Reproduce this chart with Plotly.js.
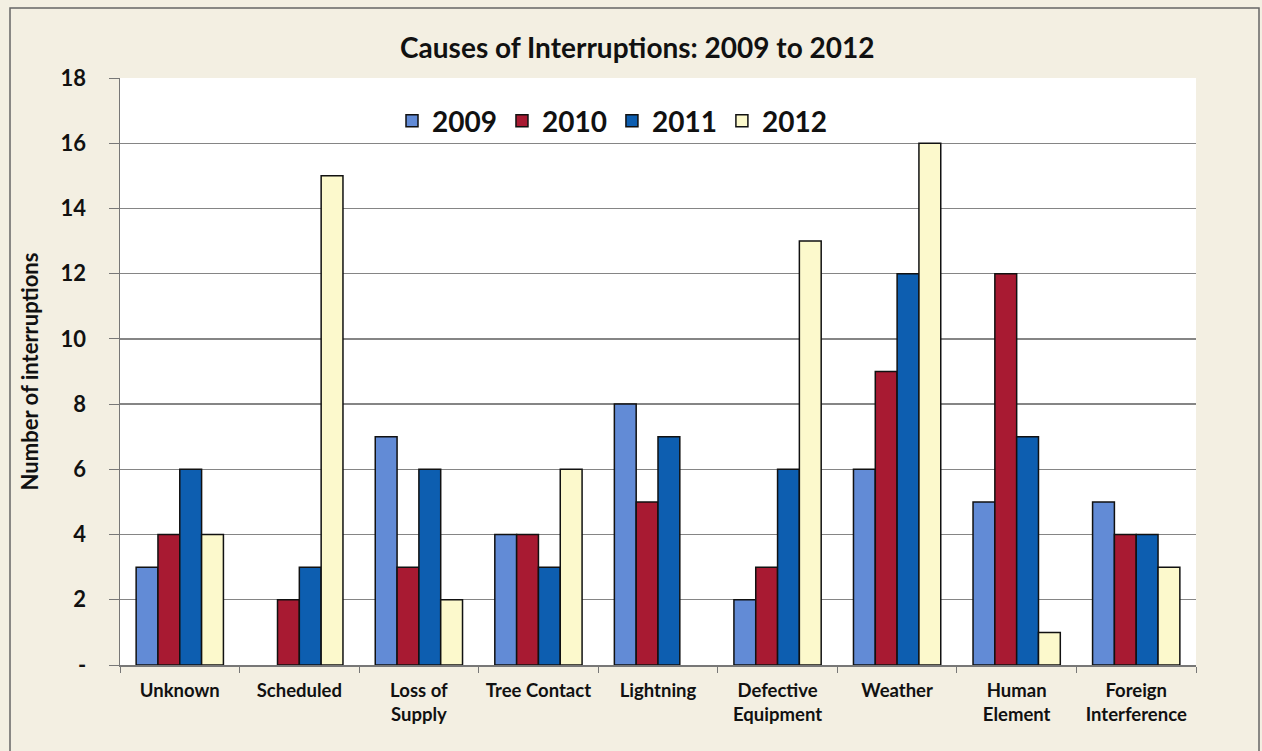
<!DOCTYPE html>
<html>
<head>
<meta charset="utf-8">
<script src="https://cdn.plot.ly/plotly-3.0.1.min.js"></script>
<style>
html,body{margin:0;padding:0;background:#f3efe2;}
#chart{width:1262px;height:751px;}
</style>
</head>
<body>
<div id="chart"></div>
<script>
const categories = ["Unknown", "Scheduled", "Loss of<br>Supply", "Tree Contact", "Lightning", "Defective<br>Equipment", "Weather", "Human<br>Element", "Foreign<br>Interference"];
const years = ["2009", "2010", "2011", "2012"];
const v2009 = [3, 0, 7, 4, 8, 2, 6, 5, 5];
const v2010 = [4, 2, 3, 4, 5, 3, 9, 12, 4];
const v2011 = [6, 3, 6, 3, 7, 6, 12, 7, 4];
const v2012 = [4, 15, 2, 6, 0, 13, 16, 1, 3];
const yTickVals = [0, 2, 4, 6, 8, 10, 12, 14, 16, 18];
const yTickText = ["-", "2", "4", "6", "8", "10", "12", "14", "16", "18"];

const series = [v2009, v2010, v2011, v2012];
const colors = ["#628bd6", "#a81a32", "#0d5eb0", "#fcf9cc"];

const FONT = "Lato, 'Open Sans', sans-serif";
const L = 120, R = 1196, T = 78, B = 665;
const W = 1262, H = 751;

const traces = series.map((vals, i) => ({
  type: "bar",
  name: "<b>" + years[i] + "</b>",
  x: categories,
  y: vals,
  marker: {color: colors[i], line: {color: "#111", width: vals.map(v => v === 0 ? 0 : 1.5)}},
  hoverinfo: "x+y+name"
}));

function px2x(px){ return (px - L) / (R - L); }
function py2y(py){ return (B - py) / (B - T); }

const layout = {
  width: W, height: H,
  paper_bgcolor: "#f3efe2",
  plot_bgcolor: "#ffffff",
  margin: {l: L, r: W - R, t: T, b: H - B, pad: 0},
  font: {family: FONT, color: "#111", size: 16},
  title: {
    text: "<b>Causes of Interruptions: 2009 to 2012</b>",
    font: {family: FONT, size: 28, color: "#111"},
    x: 0.505, xanchor: "center", y: 1 - 48 / H, yanchor: "middle"
  },
  barmode: "group",
  bargap: 0.27,
  bargroupgap: 0,
  showlegend: true,
  legend: {
    orientation: "h",
    x: px2x(612), xanchor: "center",
    y: py2y(121), yanchor: "middle",
    bgcolor: "rgba(0,0,0,0)",
    font: {family: FONT, size: 28, color: "#111"},
    itemwidth: 30,
    traceorder: "normal",
    itemclick: false
  },
  xaxis: {
    type: "category",
    tickvals: categories,
    ticktext: categories.map(c => "<b>" + c + "</b>"),
    tickfont: {family: FONT, size: 18.5, color: "#111"},
    showline: true, linecolor: "#777", linewidth: 1.5,
    ticks: "outside", tickson: "boundaries", ticklen: 6, tickcolor: "#777",
    ticklabelstandoff: 8,
    showgrid: false,
    fixedrange: true
  },
  yaxis: {
    range: [0, 18],
    tickvals: yTickVals,
    ticktext: yTickText.map(t => "<b>" + t + "</b>"),
    tickfont: {family: FONT, size: 22, color: "#111"},
    showline: true, linecolor: "#777", linewidth: 1.5,
    ticks: "outside", ticklen: 10, tickcolor: "#777",
    ticklabelstandoff: 18,
    showgrid: true, gridcolor: "#858585", gridwidth: 1.3,
    zeroline: false,
    title: {text: "<b>Number of interruptions</b>", font: {family: FONT, size: 22, color: "#111"}, standoff: 16},
    fixedrange: true
  },
  shapes: [
    {type: "rect", xref: "paper", yref: "paper",
     x0: px2x(10), x1: px2x(1259), y0: py2y(760), y1: py2y(8),
     line: {color: "#666", width: 1.5}, fillcolor: "rgba(0,0,0,0)", layer: "below"}
  ]
};

Plotly.newPlot("chart", traces, layout, {displayModeBar: false, staticPlot: true});
</script>
</body>
</html>
